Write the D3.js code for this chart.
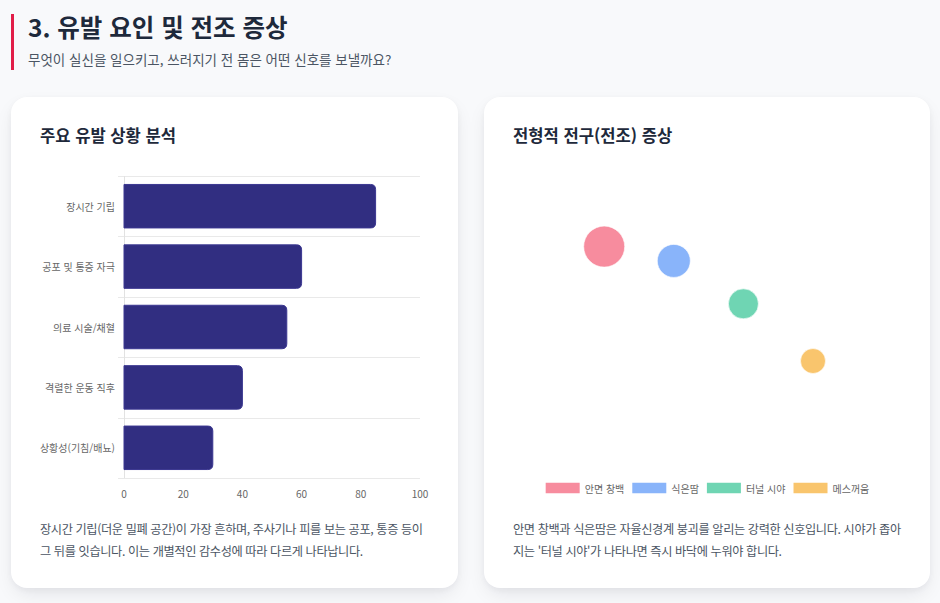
<!DOCTYPE html>
<html lang="ko">
<head>
<meta charset="utf-8">
<script src="https://cdn.jsdelivr.net/npm/d3@7"></script>
<style>
  body {
    margin: 0;
    background: #f8f9fb;
    font-family: "Noto Sans CJK KR", "Noto Sans", sans-serif;
    width: 940px;
    height: 603px;
    overflow: hidden;
    position: relative;
  }
  .header {
    position: absolute;
    left: 11px;
    top: 14px;
    height: 56px;
    border-left: 3px solid #e11d48;
    padding-left: 14px;
  }
  .header h1 {
    margin: 0;
    font-size: 24.5px;
    font-weight: 700;
    color: #1e293b;
    line-height: 26px;
  }
  .header p {
    margin: 9px 0 0 0;
    font-size: 13.5px;
    color: #4b5563;
  }
  .card {
    position: absolute;
    top: 97px;
    width: 447px;
    height: 491px;
    background: #fff;
    border-radius: 16px;
    box-shadow: 0 8px 20px -4px rgba(15, 23, 42, 0.10), 0 2px 6px rgba(15, 23, 42, 0.04);
  }
  .card h2 {
    position: absolute;
    left: 29px;
    top: 26px;
    margin: 0;
    font-size: 16.6px;
    font-weight: 700;
    color: #1e293b;
  }
  .card svg {
    position: absolute;
    left: 29px;
    top: 68px;
  }
  .card .desc {
    position: absolute;
    left: 29px;
    top: 422px;
    margin: 0;
    font-size: 12.2px;
    letter-spacing: -0.38px;
    line-height: 21.5px;
    color: #4b5563;
    white-space: nowrap;
  }
</style>
</head>
<body>
<div class="header">
  <h1>3. 유발 요인 및 전조 증상</h1>
  <p>무엇이 실신을 일으키고, 쓰러지기 전 몸은 어떤 신호를 보낼까요?</p>
</div>

<div class="card" id="card1" style="left:11px">
  <h2>주요 유발 상황 분석</h2>
  <p class="desc">장시간 기립(더운 밀폐 공간)이 가장 흔하며, 주사기나 피를 보는 공포, 통증 등이<br>그 뒤를 잇습니다. 이는 개별적인 감수성에 따라 다르게 나타납니다.</p>
</div>

<div class="card" id="card2" style="left:484px; width:446px">
  <h2>전형적 전구(전조) 증상</h2>
  <p class="desc">안면 창백과 식은땀은 자율신경계 붕괴를 알리는 강력한 신호입니다. 시야가 좁아<br>지는 '터널 시야'가 나타나면 즉시 바닥에 누워야 합니다.</p>
</div>

<script>
// trigger situations (bar chart)
const triggers = ['장시간 기립', '공포 및 통증 자극', '의료 시술/채혈', '격렬한 운동 직후', '상황성(기침/배뇨)'];
const triggerValues = [85, 60, 55, 40, 30];
const xTicks = [0, 20, 40, 60, 80, 100];

// prodromal symptoms (bubble chart)
const symptoms = ['안면 창백', '식은땀', '터널 시야', '메스꺼움'];
const symptomX = [1, 2, 3, 4];
const symptomY = [90, 85, 70, 50];
const symptomR = [20.5, 16.5, 15, 12.5];
const symptomColors = ['#f78c9e', '#89b4fa', '#6fd5b3', '#f9c56d'];

const W = 389, H = 340;

// ---- bar chart ----
(function() {
    const margin = {top: 11, right: 9, bottom: 27, left: 84};
    const iw = W - margin.left - margin.right;
    const ih = H - margin.top - margin.bottom;

    const svg = d3.select('#card1').append('svg')
        .attr('width', W)
        .attr('height', H);
    const g = svg.append('g')
        .attr('transform', `translate(${margin.left},${margin.top})`);

    const x = d3.scaleLinear().domain([0, 100]).range([0, iw]);
    const y = d3.scaleBand().domain(triggers).range([0, ih]);

    // grid lines between categories
    const gridYs = triggers.map(d => y(d)).concat([ih]);
    g.selectAll('.grid')
        .data(gridYs)
        .enter()
        .append('line')
        .attr('x1', -6)
        .attr('x2', iw)
        .attr('y1', d => Math.round(d) + 0.5)
        .attr('y2', d => Math.round(d) + 0.5)
        .attr('stroke', '#e9e9e9')
        .attr('stroke-width', 1);

    g.append('line')
        .attr('x1', 0.5).attr('x2', 0.5)
        .attr('y1', 0).attr('y2', ih)
        .attr('stroke', '#e2e2e2');

    const barH = y.bandwidth() * 0.72;
    const rad = 5;
    function barPath(d, i) {
        const y0 = y(triggers[i]) + (y.bandwidth() - barH) / 2;
        const x1 = x(d);
        return `M0,${y0} H${x1 - rad} Q${x1},${y0} ${x1},${y0 + rad} V${y0 + barH - rad} Q${x1},${y0 + barH} ${x1 - rad},${y0 + barH} H0 Z`;
    }

    g.selectAll('.bar')
        .data(triggerValues)
        .enter()
        .append('path')
        .attr('d', barPath)
        .attr('fill', '#312e81')
        .attr('stroke', '#3b3791')
        .attr('stroke-width', 1);

    g.selectAll('.ylab')
        .data(triggers)
        .enter()
        .append('text')
        .attr('x', -9)
        .attr('y', d => y(d) + y.bandwidth() / 2)
        .attr('text-anchor', 'end')
        .attr('dominant-baseline', 'central')
        .attr('font-size', '10px')
        .attr('fill', '#666')
        .text(d => d);

    g.selectAll('.xlab')
        .data(xTicks)
        .enter()
        .append('text')
        .attr('x', d => x(d))
        .attr('y', ih + 15)
        .attr('text-anchor', 'middle')
        .attr('dominant-baseline', 'central')
        .attr('font-size', '10px')
        .attr('fill', '#666')
        .text(d => d);
})();

// ---- bubble chart ----
(function() {
    const svg = d3.select('#card2').append('svg')
        .attr('width', W)
        .attr('height', H);

    const x = d3.scaleLinear().domain([0, 5]).range([21.6, 369.6]);
    const y = d3.scaleLinear().domain([0, 100]).range([339, 53]);

    svg.selectAll('.bubble')
        .data(symptoms)
        .enter()
        .append('circle')
        .attr('cx', (d, i) => x(symptomX[i]))
        .attr('cy', (d, i) => y(symptomY[i]))
        .attr('r', (d, i) => symptomR[i])
        .attr('fill', (d, i) => symptomColors[i])
        .attr('stroke', '#ffffff')
        .attr('stroke-opacity', 0.6)
        .attr('stroke-width', 1);

    // legend, centered
    const legend = svg.append('g');
    const boxW = 34, boxH = 10.5, gapText = 5, gapItem = 8;
    let cursor = 0;
    symptoms.forEach((name, i) => {
        const item = legend.append('g').attr('transform', `translate(${cursor},0)`);
        item.append('rect')
            .attr('x', 0)
            .attr('y', -boxH / 2)
            .attr('width', boxW)
            .attr('height', boxH)
            .attr('fill', symptomColors[i]);
        const t = item.append('text')
            .attr('x', boxW + gapText)
            .attr('y', 0)
            .attr('dominant-baseline', 'central')
            .attr('font-size', '10px')
            .attr('fill', '#666')
            .text(name);
        cursor += boxW + gapText + t.node().getComputedTextLength() + gapItem;
    });
    const total = cursor - gapItem;
    legend.attr('transform', `translate(${(W - total) / 2},323)`);
})();
</script>
</body>
</html>
